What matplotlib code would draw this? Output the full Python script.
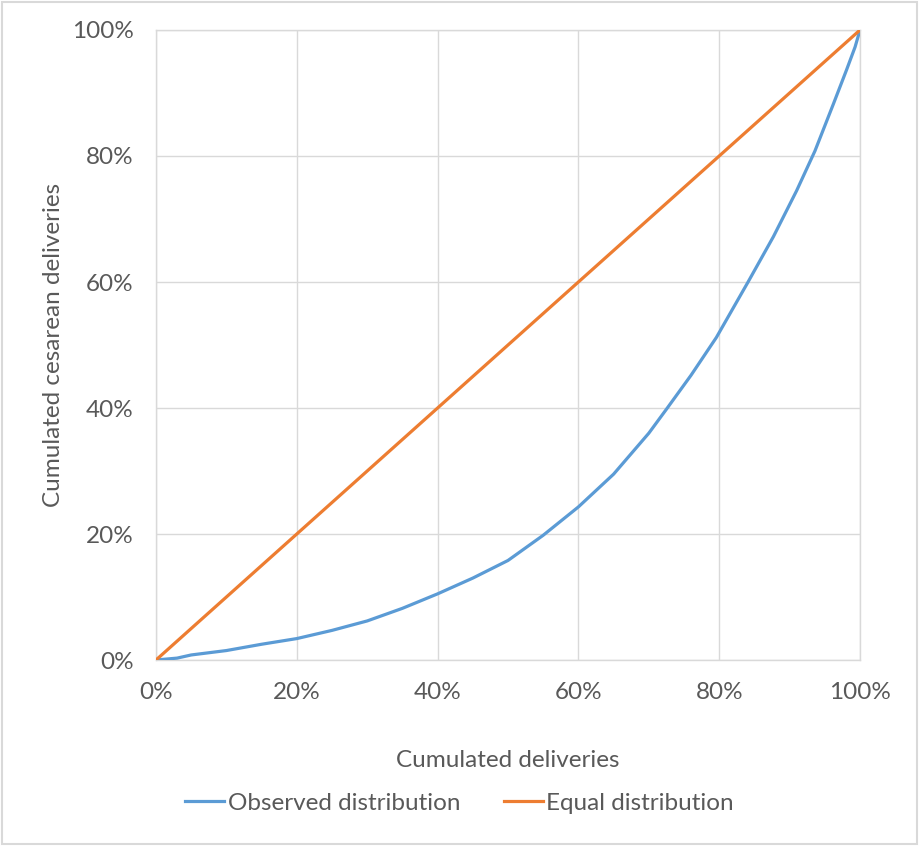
import matplotlib
matplotlib.use("Agg")
import matplotlib.pyplot as plt
from matplotlib.ticker import PercentFormatter
from matplotlib.patches import Rectangle

# Data (fractions)
obs_x = [0, 0.03, 0.05, 0.10, 0.15, 0.20, 0.25, 0.30, 0.35, 0.40, 0.45, 0.50,
         0.55, 0.60, 0.65, 0.70, 0.725, 0.76, 0.796, 0.841, 0.877, 0.910,
         0.936, 0.962, 0.981, 0.993, 1.0]
obs_y = [0, 0.003, 0.008, 0.015, 0.025, 0.034, 0.047, 0.062, 0.082, 0.105, 0.130, 0.158,
         0.198, 0.243, 0.295, 0.360, 0.398, 0.452, 0.512, 0.600, 0.672, 0.745,
         0.808, 0.882, 0.937, 0.973, 1.0]
eq_x = [0, 1.0]
eq_y = [0, 1.0]

blue = "#5B9BD5"
orange = "#ED7D31"
grid_c = "#D9D9D9"
text_c = "#595959"

plt.rcParams['font.family'] = ['Lato', 'DejaVu Sans']

fig = plt.figure(figsize=(9.19, 8.46), dpi=100)
ax = fig.add_axes([156/919, 1-660/846, 704/919, 630/846])

ax.plot(obs_x, obs_y, color=blue, lw=2.3, label="Observed distribution", zorder=3)
ax.plot(eq_x, eq_y, color=orange, lw=2.3, label="Equal distribution", zorder=3)

ax.set_xlim(0, 1)
ax.set_ylim(0, 1)
ax.set_xticks([0, 0.2, 0.4, 0.6, 0.8, 1.0])
ax.set_yticks([0, 0.2, 0.4, 0.6, 0.8, 1.0])
ax.xaxis.set_major_formatter(PercentFormatter(1.0, decimals=0))
ax.yaxis.set_major_formatter(PercentFormatter(1.0, decimals=0))
ax.grid(True, color=grid_c, lw=1.0, zorder=0)
ax.set_axisbelow(True)
for s in ax.spines.values():
    s.set_color(grid_c)
    s.set_linewidth(1.0)
ax.tick_params(length=0, labelsize=17.5, colors=text_c)
ax.tick_params(axis='y', pad=16)
ax.tick_params(axis='x', pad=16)

ax.set_xlabel("Cumulated deliveries", fontsize=17.5, color=text_c, labelpad=34)
ax.set_ylabel("Cumulated cesarean deliveries", fontsize=17.5, color=text_c, labelpad=6)

fig.legend(loc='center', bbox_to_anchor=(0.5, 1-803/846), ncol=2, frameon=False,
           fontsize=17.5, handlelength=1.6, handletextpad=0.15, columnspacing=1.8,
           labelcolor=text_c)

fig.patches.append(Rectangle((0.002, 0.002), 0.996, 0.996, transform=fig.transFigure,
                             fill=False, edgecolor=grid_c, lw=1.5))

fig.savefig("out.png", dpi=100)
